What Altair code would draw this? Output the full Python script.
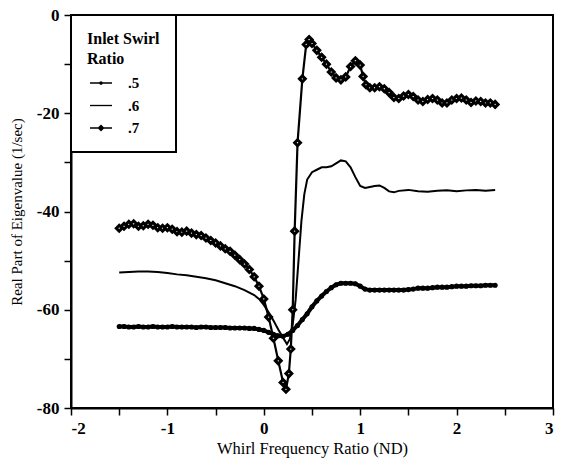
import altair as alt
import pandas as pd

# Inlet swirl ratio .7 (diamond markers)
x_07 = [-1.5, -1.45, -1.4, -1.35, -1.3, -1.25, -1.2, -1.15, -1.1, -1.05, -1.0, -0.95, -0.9, -0.85, -0.8,
        -0.75, -0.7, -0.65, -0.6, -0.55, -0.5, -0.45, -0.4, -0.35, -0.3, -0.25, -0.2, -0.15, -0.1, -0.05,
        0.0, 0.05, 0.1, 0.15, 0.2, 0.23, 0.26, 0.28, 0.3, 0.32, 0.35, 0.4, 0.44, 0.47, 0.5, 0.55, 0.6,
        0.65, 0.7, 0.75, 0.8, 0.85, 0.9, 0.95, 1.0, 1.03, 1.06, 1.1, 1.15, 1.2, 1.25, 1.3, 1.35, 1.4,
        1.45, 1.5, 1.55, 1.6, 1.65, 1.7, 1.75, 1.8, 1.85, 1.9, 1.95, 2.0, 2.05, 2.1, 2.15, 2.2, 2.25,
        2.3, 2.35, 2.4]
y_07 = [-43.4, -43.0, -42.6, -42.5, -43.0, -42.9, -42.6, -42.8, -43.3, -43.4, -43.3, -43.6, -44.1, -44.2, -44.0,
        -44.4, -44.7, -44.9, -45.4, -45.9, -46.4, -47.0, -47.6, -48.1, -48.9, -49.8, -50.7, -51.8, -53.3, -55.2,
        -57.8, -61.5, -65.8, -70.4, -74.8, -76.2, -73.0, -68.0, -60.0, -44.0, -26.0, -13.0, -6.0, -5.0, -5.8, -7.2, -8.6,
        -10.0, -11.6, -12.8, -13.2, -12.6, -10.5, -9.3, -10.2, -12.5, -14.2, -14.8, -14.8, -14.6, -15.0, -15.8, -16.8, -17.0,
        -16.5, -16.2, -16.6, -17.3, -17.6, -17.2, -17.0, -17.3, -17.9, -17.9, -17.3, -17.0, -16.9, -17.3, -17.8, -17.5, -17.6,
        -17.9, -17.9, -18.2]

# Inlet swirl ratio .6 (plain line)
x_06 = [-1.5, -1.4, -1.3, -1.2, -1.1, -1.0, -0.9, -0.8, -0.7, -0.6, -0.5, -0.4, -0.3, -0.2, -0.1, -0.05,
        0.0, 0.05, 0.1, 0.15, 0.2, 0.24, 0.27, 0.3, 0.33, 0.36, 0.39, 0.42, 0.45, 0.5, 0.55, 0.6, 0.65,
        0.7, 0.75, 0.8, 0.85, 0.9, 0.95, 1.0, 1.05, 1.1, 1.15, 1.2, 1.25, 1.3, 1.35, 1.4, 1.5, 1.6, 1.7,
        1.8, 1.9, 2.0, 2.1, 2.2, 2.3, 2.4]
y_06 = [-52.4, -52.3, -52.2, -52.2, -52.3, -52.5, -52.8, -53.0, -53.3, -53.6, -54.0, -54.6, -55.2, -56.0, -57.0, -57.8,
        -59.0, -60.5, -62.2, -64.0, -65.7, -67.0, -66.0, -63.0, -58.0, -50.0, -42.0, -36.5, -33.5, -32.0, -31.5, -31.0, -31.0,
        -30.8, -30.2, -29.6, -29.8, -31.0, -33.0, -34.8, -35.2, -35.0, -34.8, -34.7, -35.2, -35.9, -36.1, -35.8, -35.6, -35.9, -36.0,
        -35.8, -35.7, -35.9, -35.7, -35.6, -35.8, -35.6]

# Inlet swirl ratio .5 (small dot markers)
x_05 = [-1.5, -1.45, -1.4, -1.35, -1.3, -1.25, -1.2, -1.15, -1.1, -1.05, -1.0, -0.95, -0.9, -0.85, -0.8,
        -0.75, -0.7, -0.65, -0.6, -0.55, -0.5, -0.45, -0.4, -0.35, -0.3, -0.25, -0.2, -0.15, -0.1, -0.05,
        0.0, 0.05, 0.1, 0.15, 0.2, 0.25, 0.3, 0.35, 0.4, 0.45, 0.5, 0.55, 0.6, 0.65, 0.7, 0.75, 0.8, 0.85,
        0.9, 0.95, 1.0, 1.05, 1.1, 1.15, 1.2, 1.25, 1.3, 1.35, 1.4, 1.45, 1.5, 1.55, 1.6, 1.65, 1.7, 1.75,
        1.8, 1.85, 1.9, 1.95, 2.0, 2.05, 2.1, 2.15, 2.2, 2.25, 2.3, 2.35, 2.4]
y_05 = [-63.4, -63.4, -63.5, -63.5, -63.4, -63.5, -63.5, -63.4, -63.5, -63.5, -63.5, -63.4, -63.5, -63.5, -63.5,
        -63.5, -63.6, -63.5, -63.5, -63.6, -63.6, -63.6, -63.6, -63.7, -63.7, -63.7, -63.7, -63.8, -63.8, -64.0,
        -64.2, -64.6, -65.0, -65.3, -65.4, -65.0, -64.2, -63.2, -62.0, -60.8, -59.4, -58.2, -57.2, -56.3, -55.5, -54.9, -54.6, -54.6,
        -54.6, -54.7, -55.2, -55.8, -56.0, -56.0, -56.0, -56.0, -56.0, -56.0, -56.0, -56.0, -55.9, -55.8, -55.6, -55.6, -55.6, -55.5,
        -55.4, -55.4, -55.4, -55.3, -55.2, -55.2, -55.2, -55.1, -55.1, -55.1, -55.0, -55.0, -55.0]

series_labels = [".5", ".6", ".7"]
# legend symbols: a thin filled bar (the line) plus the marker
legend_paths = [
    "M-1,-0.07H1V0.07H-1ZM0.17,0A0.17,0.17,0,1,1,-0.17,0A0.17,0.17,0,1,1,0.17,0Z",
    "M-1,-0.06H1V0.06H-1Z",
    "M-1,-0.07H1V0.07H-1ZM0,-0.32L0.32,0L0,0.32L-0.32,0Z",
]

rows = []
for lab, xs, ys in zip(series_labels, [x_05, x_06, x_07], [y_05, y_06, y_07]):
    for xv, yv in zip(xs, ys):
        rows.append({"swirl": lab, "x": xv, "y": yv})
df = pd.DataFrame(rows)

FONT = "Liberation Serif"

x_enc = alt.X("x:Q", scale=alt.Scale(domain=[-2, 3], nice=False, zero=False),
              axis=alt.Axis(values=[-2, -1.5, -1, -0.5, 0, 0.5, 1, 1.5, 2, 2.5, 3],
                            labelExpr="datum.value % 1 == 0 ? '' + datum.value : ''", labelPadding=5,
                            title="Whirl Frequency Ratio (ND)", titleFontSize=16.5, titlePadding=4))
y_enc = alt.Y("y:Q", scale=alt.Scale(domain=[-80, 0], nice=False, zero=False),
              axis=alt.Axis(values=[-80, -70, -60, -50, -40, -30, -20, -10, 0],
                            labelExpr="datum.value % 20 == 0 ? '' + datum.value : ''", labelPadding=5,
                            title="Real Part of Eigenvalue (1/sec)", titlePadding=12))

base = alt.Chart(df).encode(x=x_enc, y=y_enc)

line_05 = base.transform_filter("datum.swirl == '.5'").mark_line(color="black", strokeWidth=4)
line_06 = base.transform_filter("datum.swirl == '.6'").mark_line(color="black", strokeWidth=2)
line_07 = base.transform_filter("datum.swirl == '.7'").mark_line(color="black", strokeWidth=2.2)

pts_05 = base.transform_filter("datum.swirl == '.5'").mark_point(
    shape="circle", size=26, filled=True, color="black", opacity=1)
pts_07 = base.transform_filter("datum.swirl == '.7'").mark_point(
    shape="diamond", size=34, fill="white", fillOpacity=1, stroke="black", strokeWidth=3, opacity=1)

legend_layer = base.mark_point(filled=True, color="black", opacity=0).encode(
    shape=alt.Shape("swirl:N",
                    scale=alt.Scale(domain=series_labels, range=legend_paths),
                    legend=alt.Legend(title=["Inlet Swirl", "Ratio"], orient="top-left", offset=0,
                                      symbolSize=484, symbolFillColor="black", symbolStrokeWidth=0,
                                      symbolOpacity=1, symbolOffset=3))
)

chart = alt.layer(line_05, line_06, line_07, pts_05, pts_07, legend_layer).properties(
    width=482, height=393,
    padding={"left": 71, "top": 15, "right": 11, "bottom": 59},
    autosize=alt.AutoSizeParams(type="none"),
).configure_view(
    stroke="black", strokeWidth=2
).configure_axis(
    grid=False, domainColor="black", domainWidth=2, tickColor="black", tickWidth=1.5, tickSize=7,
    labelFont=FONT, labelFontSize=17, labelFontWeight="bold", labelColor="black",
    titleFont=FONT, titleFontSize=15, titleFontWeight="normal", titleColor="black",
).configure_legend(
    strokeColor="black", padding=16, titleFont=FONT, titleFontSize=16, titleFontWeight="bold",
    titleColor="black", titleLineHeight=20, titlePadding=5, labelFont=FONT, labelFontSize=15,
    labelFontWeight="bold", labelColor="black", labelOffset=16, rowPadding=3.5, fillColor="white",
    strokeWidth=2,
)

chart.save("out.html", embed_options={"renderer": "svg", "actions": False})
